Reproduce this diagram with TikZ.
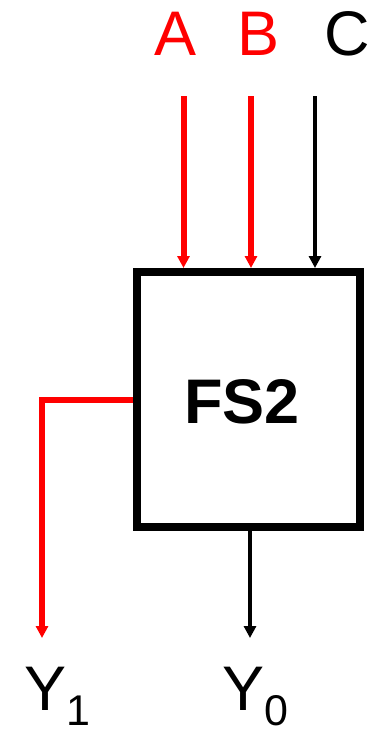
\documentclass[tikz,border=0pt]{standalone}
\usepackage{fontspec}
\setmainfont{Liberation Sans}
\usetikzlibrary{arrows.meta}
\definecolor{sigred}{RGB}{255,0,0}
\begin{document}
\begin{tikzpicture}[x=1pt,y=-1pt,
  lbl/.style={inner sep=0pt,anchor=base,font=\fontsize{63}{70}\selectfont},
  wire/.style={line width=5.5pt,-{Triangle[width=12pt,length=12pt]}},
  redwire/.style={wire,draw=sigred,line width=6pt},
  blackwire/.style={wire,draw=black,line width=4.8pt}]
\useasboundingbox (0,0) rectangle (370,731);
\node[draw,line width=8pt,inner sep=0pt,minimum width=223.5pt,minimum height=255pt] (box) at (248.25,399.5) {};
\node[inner sep=0pt,anchor=base,font=\fontsize{63}{70}\selectfont\bfseries] (fs) at (242,423) {FS2};
\node[lbl,text=sigred] (la) at (176,55) {A};
\node[lbl,text=sigred] (lb) at (259,55) {B};
\node[lbl] (lc) at (347,55) {C};
\coordinate (ta) at (183.5,96);
\coordinate (tb) at (251,96);
\coordinate (tc) at (315,96);
\draw[redwire] (ta) -- (ta |- box.north);
\draw[redwire] (tb) -- (tb |- box.north);
\draw[blackwire] (tc) -- (tc |- box.north);
\coordinate (e1) at (42,638);
\coordinate (e0) at (250,638);
\draw[redwire] (box.west) -- (box.west -| e1) -- (e1);
\draw[blackwire] (box.south -| e0) -- (e0);
\node[lbl,anchor=base west] (ly1) at (24,710) {Y\raisebox{-15pt}{\fontsize{43}{50}\selectfont 1}};
\node[lbl,anchor=base west] (ly0) at (222,710) {Y\raisebox{-15pt}{\fontsize{43}{50}\selectfont 0}};
\end{tikzpicture}
\end{document}
